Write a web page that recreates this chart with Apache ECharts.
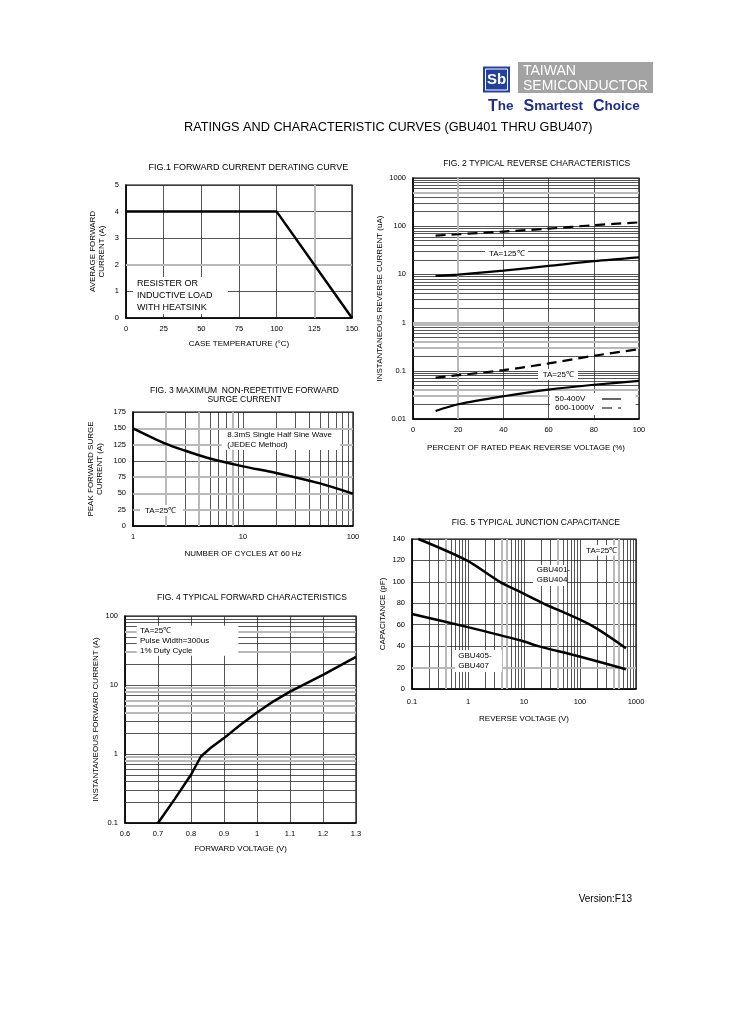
<!DOCTYPE html>
<html><head><meta charset="utf-8">
<script src="https://cdn.jsdelivr.net/npm/echarts@6/dist/echarts.min.js"></script>
<style>html,body{margin:0;padding:0;background:#fff}#c{width:729px;height:1032px}</style>
</head><body><div id="c"></div>
<script>
// ---------- DATA ----------
// Fig.1 forward current derating
const fig1Temp = [0, 100, 150];
const fig1Current = [4, 4, 0];
const fig1XTicks = [0, 25, 50, 75, 100, 125, 150];
const fig1YTicks = [0, 1, 2, 3, 4, 5];
// Fig.2 typical reverse characteristics
const fig2Percent = [10, 20, 40, 60, 80, 100];
const fig2Solid125 = [9.3, 9.9, 12.0, 15.0, 18.8, 22.5];
const fig2Dash125 = [64, 68, 77.5, 89, 105, 120];
const fig2Dash25 = [0.072, 0.081, 0.103, 0.142, 0.205, 0.28];
const fig2Solid25 = [0.0147, 0.0202, 0.0297, 0.0408, 0.0513, 0.0617];
const fig2YTicks = [0.01, 0.1, 1, 10, 100, 1000];
// Fig.3 surge current
const fig3Cycles = [1, 2, 3, 5, 10, 20, 50, 100];
const fig3Surge = [150, 126, 115.5, 103.5, 91.5, 81.5, 65.4, 49.6];
const fig3YTicks = [0, 25, 50, 75, 100, 125, 150, 175];
// Fig.4 forward characteristics
const fig4Voltage = [0.70, 0.75, 0.80, 0.83, 0.86, 0.90, 0.95, 1.00, 1.05, 1.10, 1.20, 1.30];
const fig4Current = [0.1, 0.22, 0.5, 0.92, 1.23, 1.7, 2.66, 4.0, 5.8, 8.0, 14, 25.5];
// Fig.5 junction capacitance
const fig5VoltUpper = [0.13, 0.95, 3.7, 9.1, 22, 151, 660];
const fig5CapUpper = [140, 120, 100, 90, 80, 60, 38];
const fig5VoltLower = [0.1, 0.95, 9.1, 18, 87, 660];
const fig5CapLower = [70, 58, 45, 40, 31, 18.5];
const LOG_MULT = [2, 3, 4, 5, 6, 7, 8, 9];

// ---------- STYLE ----------
const FONT = '"Liberation Sans", Arial, Helvetica, sans-serif';
const GRID_COLOR = '#2b2b2b';
const GRAY = '#b9b9b9';
const fmt = v => String(+Number(v).toPrecision(6));
const pairs = (xs, ys) => xs.map((x, i) => [x, ys[i]]);

function decadeMinors(fromExp, toExp) {
  const out = [];
  for (let e = fromExp; e < toExp; e++) LOG_MULT.forEach(m => out.push(+(m * Math.pow(10, e)).toPrecision(6)));
  return out;
}
function lineItems(key, blackVals, grayVals) {
  const d = [];
  blackVals.forEach(v => d.push({ [key]: v, lineStyle: { color: GRID_COLOR, width: 0.8, type: 'solid' } }));
  grayVals.forEach(v => d.push({ [key]: v, lineStyle: { color: GRAY, width: 2, type: 'solid' } }));
  return d;
}
function helper(idx, data) {
  return {
    type: 'line', xAxisIndex: idx, yAxisIndex: idx, data: [], z: 1, silent: true,
    markLine: { z: 1, silent: true, symbol: ['none', 'none'], animation: false, label: { show: false },
      emphasis: { disabled: true }, data: data }
  };
}
function axis(extra) {
  return Object.assign({
    axisLine: { show: true, onZero: false, lineStyle: { color: '#000', width: 1.5 } },
    axisTick: { show: false },
    axisLabel: { color: '#000', fontSize: 7.5, fontFamily: FONT, margin: 7, formatter: fmt },
    splitLine: { show: true, lineStyle: { color: GRID_COLOR, width: 0.8 } },
    nameLocation: 'middle',
    nameTextStyle: { color: '#000', fontSize: 8, fontFamily: FONT, lineHeight: 9 }
  }, extra);
}
function curve(idx, name, data, opt) {
  return Object.assign({
    type: 'line', name: name, xAxisIndex: idx, yAxisIndex: idx, data: data, z: 8,
    symbol: 'none', showSymbol: false, animation: false,
    lineStyle: { color: '#000', width: 2.5 }, itemStyle: { color: '#000' }
  }, opt || {});
}
function txt(x, y, text, opt) {
  return { type: 'text', x: x, y: y, z: 21,
    style: Object.assign({ text: text, fill: '#000', font: '9px ' + FONT, textAlign: 'center', textVerticalAlign: 'middle' }, opt || {}) };
}
function box(x, y, w, h) {
  return { type: 'rect', z: 20, shape: { x: x, y: y, width: w, height: h }, style: { fill: '#fff' } };
}

const grids = [
  { left: 126, top: 185, width: 226, height: 133 },
  { left: 413, top: 178, width: 226, height: 241 },
  { left: 133, top: 412, width: 220, height: 114 },
  { left: 125, top: 616, width: 231, height: 207 },
  { left: 412, top: 539, width: 224, height: 150 }
].map(g => Object.assign(g, { show: true, borderColor: '#000', borderWidth: 1.2, backgroundColor: 'transparent', containLabel: false, outerBoundsMode: 'none' }));

const option = {
  animation: false,
  backgroundColor: '#fff',
  textStyle: { fontFamily: FONT },
  grid: grids,
  xAxis: [
    axis({ gridIndex: 0, type: 'value', min: fig1XTicks[0], max: fig1XTicks[fig1XTicks.length - 1], interval: 25,
      name: 'CASE TEMPERATURE (°C)', nameGap: 21 }),
    axis({ gridIndex: 1, type: 'value', min: 0, max: 100, interval: 20,
      name: 'PERCENT OF RATED PEAK REVERSE VOLTAGE (%)', nameGap: 24 }),
    axis({ gridIndex: 2, type: 'log', logBase: 10, min: 1, max: 100,
      name: 'NUMBER OF CYCLES AT 60 Hz', nameGap: 23 }),
    axis({ gridIndex: 3, type: 'value', min: 0.6, max: 1.3, interval: 0.1,
      name: 'FORWARD VOLTAGE (V)', nameGap: 21 }),
    axis({ gridIndex: 4, type: 'log', logBase: 10, min: 0.1, max: 1000,
      name: 'REVERSE VOLTAGE (V)', nameGap: 25, axisLabel: { color: '#000', fontSize: 7.5, fontFamily: FONT, margin: 9, formatter: fmt } })
  ],
  yAxis: [
    axis({ gridIndex: 0, type: 'value', min: fig1YTicks[0], max: fig1YTicks[fig1YTicks.length - 1], interval: 1,
      name: 'AVERAGE FORWARD\nCURRENT (A)', nameGap: 20, nameRotate: 90 }),
    axis({ gridIndex: 1, type: 'log', logBase: 10, min: fig2YTicks[0], max: fig2YTicks[fig2YTicks.length - 1],
      name: 'INSTANTANEOUS REVERSE CURRENT (uA)', nameGap: 29, nameRotate: 90 }),
    axis({ gridIndex: 2, type: 'value', min: fig3YTicks[0], max: fig3YTicks[fig3YTicks.length - 1], interval: 25,
      name: 'PEAK FORWARD SURGE\nCURRENT (A)', nameGap: 29, nameRotate: 90 }),
    axis({ gridIndex: 3, type: 'log', logBase: 10, min: 0.1, max: 100,
      name: 'INSTANTANEOUS FORWARD CURRENT (A)', nameGap: 25, nameRotate: 90 }),
    axis({ gridIndex: 4, type: 'value', min: 0, max: 140, interval: 20,
      name: 'CAPACITANCE (pF)', nameGap: 25, nameRotate: 90 })
  ],
  legend: {
    show: true, data: ['50-400V', '600-1000V'], orient: 'vertical', align: 'right',
    left: 550, top: 393, padding: [2, 14, 3, 5], itemGap: 1, itemWidth: 19, itemHeight: 8,
    backgroundColor: '#fff', selectedMode: false, z: 22,
    formatter: name => '{n|' + name + '}',
    textStyle: { color: '#000', fontSize: 8, fontFamily: FONT,
      rich: { n: { width: 42, align: 'left', fontSize: 8, fontFamily: FONT, color: '#000' } } },
    itemStyle: { color: 'rgba(0,0,0,0)', borderWidth: 0, opacity: 0 },
    lineStyle: { width: 1.2 }
  },
  series: [
    helper(0, lineItems('xAxis', [], [125]).concat(lineItems('yAxis', [], [2]))),
    helper(1, lineItems('yAxis', decadeMinors(-2, 3), [500, 0.9, 1, 0.4, 0.3, 0.04, 0.03]).concat(lineItems('xAxis', [], [20]))),
    helper(2, lineItems('xAxis', decadeMinors(0, 2), [2, 4, 8]).concat(lineItems('yAxis', [], [25, 50, 75, 125, 150]))),
    helper(3, lineItems('yAxis', decadeMinors(-1, 2), [60, 30, 9, 8, 6, 5, 4, 0.9, 0.8])),
    helper(4, lineItems('xAxis', decadeMinors(-1, 3), [0.4, 4, 5, 40, 400, 500]).concat(lineItems('yAxis', [], [20]))),

    curve(0, 'fig1', pairs(fig1Temp, fig1Current)),
    curve(1, '50-400V', pairs(fig2Percent, fig2Solid125), { smooth: 0.3, lineStyle: { color: '#000', width: 2.2 } }),
    curve(1, '600-1000V', pairs(fig2Percent, fig2Dash125), { smooth: 0.3, lineStyle: { color: '#000', width: 2.2, type: [10, 6] } }),
    curve(1, '600-1000V', pairs(fig2Percent, fig2Dash25), { smooth: 0.3, lineStyle: { color: '#000', width: 2.2, type: [10, 6] } }),
    curve(1, '50-400V', pairs(fig2Percent, fig2Solid25), { smooth: 0.3, lineStyle: { color: '#000', width: 2.2 } }),
    curve(2, 'fig3', pairs(fig3Cycles, fig3Surge), { smooth: 0.3 }),
    curve(3, 'fig4', pairs(fig4Voltage, fig4Current)),
    curve(4, 'fig5a', pairs(fig5VoltUpper, fig5CapUpper), { smooth: 0.3 }),
    curve(4, 'fig5b', pairs(fig5VoltLower, fig5CapLower), { smooth: 0.3 })
  ],
  graphic: [
    // logo
    { type: 'rect', z: 20, shape: { x: 483, y: 66.5, width: 27, height: 26 }, style: { fill: '#24409a' } },
    { type: 'rect', z: 21, shape: { x: 485.5, y: 69, width: 22, height: 21 }, style: { fill: 'none', stroke: '#fff', lineWidth: 1 } },
    txt(496.5, 80, 'Sb', { fill: '#fff', font: 'bold 15px ' + FONT }),
    { type: 'rect', z: 20, shape: { x: 518, y: 62, width: 135, height: 31 }, style: { fill: '#a3a3a3' } },
    txt(523, 71.5, 'TAIWAN', { fill: '#fff', font: '14px ' + FONT, textAlign: 'left' }),
    txt(523, 86.5, 'SEMICONDUCTOR', { fill: '#fff', font: '14px ' + FONT, textAlign: 'left' }),
    { type: 'text', x: 488, y: 106.5, z: 21, style: {
      text: '{c|T}{l|he}   {c|S}{l|martest}   {c|C}{l|hoice}', textAlign: 'left', textVerticalAlign: 'middle',
      rich: { c: { fontSize: 16, fontWeight: 'bold', fill: '#1e2f86', fontFamily: FONT },
              l: { fontSize: 13.5, fontWeight: 'bold', fill: '#1e2f86', fontFamily: FONT } } } },
    // main title
    txt(388.3, 127.3, 'RATINGS AND CHARACTERISTIC CURVES (GBU401 THRU GBU407)', { font: '12.7px ' + FONT }),
    // figure titles
    txt(248.3, 167.7, 'FIG.1 FORWARD CURRENT DERATING CURVE'),
    txt(536.7, 163.3, 'FIG. 2 TYPICAL REVERSE CHARACTERISTICS', { font: '8.5px ' + FONT }),
    txt(244.5, 395.2, 'FIG. 3 MAXIMUM  NON-REPETITIVE FORWARD\nSURGE CURRENT', { font: '8.5px ' + FONT, lineHeight: 8.5 }),
    txt(252, 597.7, 'FIG. 4 TYPICAL FORWARD CHARACTERISTICS', { font: '8.5px ' + FONT }),
    txt(535.8, 522.7, 'FIG. 5 TYPICAL JUNCTION CAPACITANCE', { font: '8.5px ' + FONT }),
    // fig1 annotation
    box(133, 277, 95, 37),
    txt(137, 296, 'RESISTER OR\nINDUCTIVE LOAD\nWITH HEATSINK', { textAlign: 'left', lineHeight: 12 }),
    // fig2 annotations
    box(485, 247, 43, 13),
    txt(506.7, 253.5, 'TA=125℃', { font: '8px ' + FONT }),
    box(538, 369, 40, 11),
    txt(558.3, 374.5, 'TA=25℃', { font: '8px ' + FONT }),
    // fig3 annotations
    box(221.7, 430, 118.3, 20),
    txt(227.3, 439.7, '8.3mS Single Half Sine Wave\n(JEDEC Method)', { font: '8px ' + FONT, textAlign: 'left', lineHeight: 9.5 }),
    box(140, 505, 43, 11),
    txt(145, 510.5, 'TA=25℃', { font: '8px ' + FONT, textAlign: 'left' }),
    // fig4 annotation
    box(136.7, 625.7, 101.6, 30),
    txt(140, 641, 'TA=25℃\nPulse Width=300us\n1% Duty Cycle', { font: '8px ' + FONT, textAlign: 'left', lineHeight: 10 }),
    // fig5 annotations
    box(585, 545, 33, 10.5),
    txt(601.7, 550.3, 'TA=25℃', { font: '8px ' + FONT }),
    box(533, 565, 34, 21),
    txt(536.7, 575, 'GBU401-\nGBU404', { font: '8px ' + FONT, textAlign: 'left', lineHeight: 10 }),
    box(455, 650, 47, 22),
    txt(458.3, 660.5, 'GBU405-\nGBU407', { font: '8px ' + FONT, textAlign: 'left', lineHeight: 9.6 }),
    // version
    txt(632, 899, 'Version:F13', { font: '10px ' + FONT, textAlign: 'right' })
  ]
};

const chart = echarts.init(document.getElementById('c'), null, { renderer: 'canvas', width: 729, height: 1032 });
chart.setOption(option);
</script>
</body></html>
